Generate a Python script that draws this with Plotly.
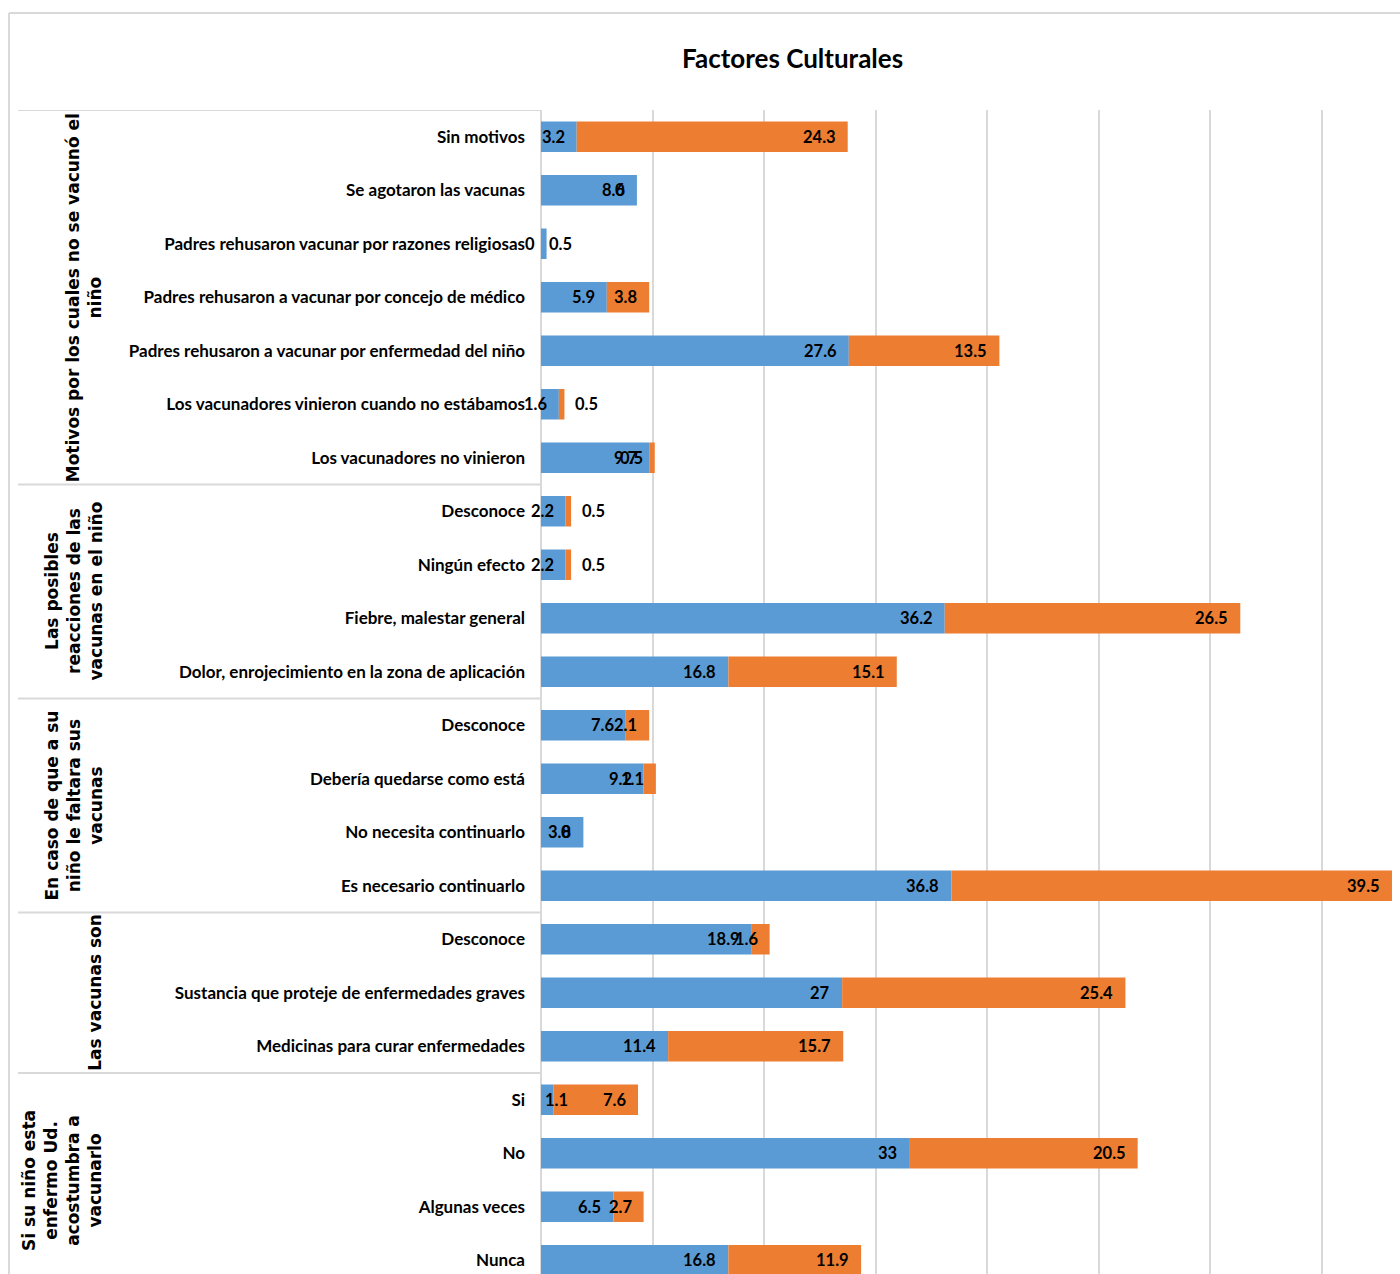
import plotly.graph_objects as go

title = "Factores Culturales"

categories = [
    "Sin motivos",
    "Se agotaron las vacunas",
    "Padres rehusaron vacunar por razones religiosas",
    "Padres rehusaron a vacunar por concejo de médico",
    "Padres rehusaron a vacunar por enfermedad del niño",
    "Los vacunadores vinieron cuando no estábamos",
    "Los vacunadores no vinieron",
    "Desconoce",
    "Ningún efecto",
    "Fiebre, malestar general",
    "Dolor, enrojecimiento en la zona de aplicación",
    "Desconoce",
    "Debería quedarse como está",
    "No necesita continuarlo",
    "Es necesario continuarlo",
    "Desconoce",
    "Sustancia que proteje de enfermedades graves",
    "Medicinas para curar enfermedades",
    "Si",
    "No",
    "Algunas veces",
    "Nunca",
]

blue_values = [3.2, 8.6, 0.5, 5.9, 27.6, 1.6, 9.7,
               2.2, 2.2, 36.2, 16.8,
               7.6, 9.2, 3.8, 36.8,
               18.9, 27, 11.4,
               1.1, 33, 6.5, 16.8]
orange_values = [24.3, 0, 0, 3.8, 13.5, 0.5, 0.5,
                 0.5, 0.5, 26.5, 15.1,
                 2.1, 1.1, 0, 39.5,
                 1.6, 25.4, 15.7,
                 7.6, 20.5, 2.7, 11.9]

groups = [
    "Motivos por los cuales no se vacunó el<br>niño",
    "Las posibles<br>reacciones de las<br>vacunas en el niño",
    "En caso de que a su<br>niño le faltara sus<br>vacunas",
    "Las vacunas son",
    "Si su niño esta<br>enfermo Ud.<br>acostumbra a<br>vacunarlo",
]
group_sizes = [7, 4, 4, 3, 4]

BLUE = "#5B9BD5"
ORANGE = "#ED7D31"
GRID = "#D9D9D9"
FONT = "Lato"

W, H = 1400, 1274
L, T = 541, 110
plot_w = W - L
px_per_unit = 11.153
x_max = plot_w / px_per_unit
row_px = 53.5
n_rows = (H - T) / row_px

ypos = list(range(len(categories)))

fig = go.Figure()
fig.add_trace(go.Bar(y=ypos, x=blue_values, orientation="h", marker_color=BLUE,
                     marker_line_width=0, width=0.57, name="Serie 1"))
fig.add_trace(go.Bar(y=ypos, x=orange_values, orientation="h", marker_color=ORANGE,
                     marker_line_width=0, width=0.57, name="Serie 2", base=blue_values))

annotations = []
label_font = dict(family=FONT, size=16.5, color="black")


def add_label(x, y, v, anchor, shift):
    annotations.append(dict(x=x, y=y, xref="x", yref="y", text=f"<b>{v:g}</b>",
                            showarrow=False, xanchor=anchor, xshift=shift, font=label_font))


for i, (b, o) in enumerate(zip(blue_values, orange_values)):
    # blue segment label (inside end)
    if 0 < b < 1.5:
        add_label(0, i, b, "left", 2 if b > 1 else 6)
    else:
        add_label(b, i, b, "right", -10)
    # orange segment label
    end = b + o
    if 0 < o < 1 and b < 5:
        add_label(end, i, o, "left", 9)
    else:
        add_label(end, i, o, "right", -10)

# group labels and separators
shapes = []
start = 0
sep_x0 = (18 - L) / plot_w
for g, n in zip(groups, group_sizes):
    center = start + (n - 1) / 2
    annotations.append(dict(x=(107 - L) / plot_w, y=center, xref="paper", yref="y",
                            text=f"<b>{g}</b>", textangle=-90, showarrow=False,
                            xanchor="right", yanchor="middle", align="center",
                            font=dict(family="DejaVu Sans", size=17, color="black")))
    shapes.append(dict(type="line", xref="paper", yref="y", x0=sep_x0, x1=0,
                       y0=start - 0.5, y1=start - 0.5, line=dict(color=GRID, width=2)))
    start += n

# outer chart border (top and left)
shapes.append(dict(type="line", xref="paper", yref="paper", x0=(9 - L) / plot_w, x1=1.0,
                   y0=(H - 13) / (H - T), y1=(H - 13) / (H - T),
                   line=dict(color=GRID, width=2)))
shapes.append(dict(type="line", xref="paper", yref="paper", x0=(9 - L) / plot_w, x1=(9 - L) / plot_w,
                   y0=-0.01, y1=(H - 13) / (H - T), line=dict(color=GRID, width=2)))

annotations.append(dict(x=(792 - L) / plot_w, y=(H - 58) / (H - T), xref="paper", yref="paper",
                        text=f"<b>{title}</b>", showarrow=False, xanchor="center", yanchor="middle",
                        font=dict(family=FONT, size=26, color="black")))

fig.update_layout(
    width=W, height=H,
    margin=dict(l=L, r=0, t=T, b=0, pad=0),
    barmode="overlay",
    showlegend=False,
    plot_bgcolor="white",
    paper_bgcolor="white",
    annotations=annotations,
    shapes=shapes,
)
fig.update_xaxes(range=[0, x_max], showgrid=True, gridcolor=GRID, gridwidth=1.5, dtick=10,
                 showticklabels=False, zeroline=True, zerolinecolor=GRID, zerolinewidth=1.5,
                 showline=False)
fig.update_yaxes(tickvals=ypos, ticktext=[f"<b>{c}</b>" for c in categories],
                 range=[n_rows - 0.5, -0.5], showgrid=False, zeroline=False,
                 tickfont=dict(family=FONT, size=17, color="black"),
                 ticks="", ticklabelstandoff=15, showline=False)

fig.write_html("out.html")
